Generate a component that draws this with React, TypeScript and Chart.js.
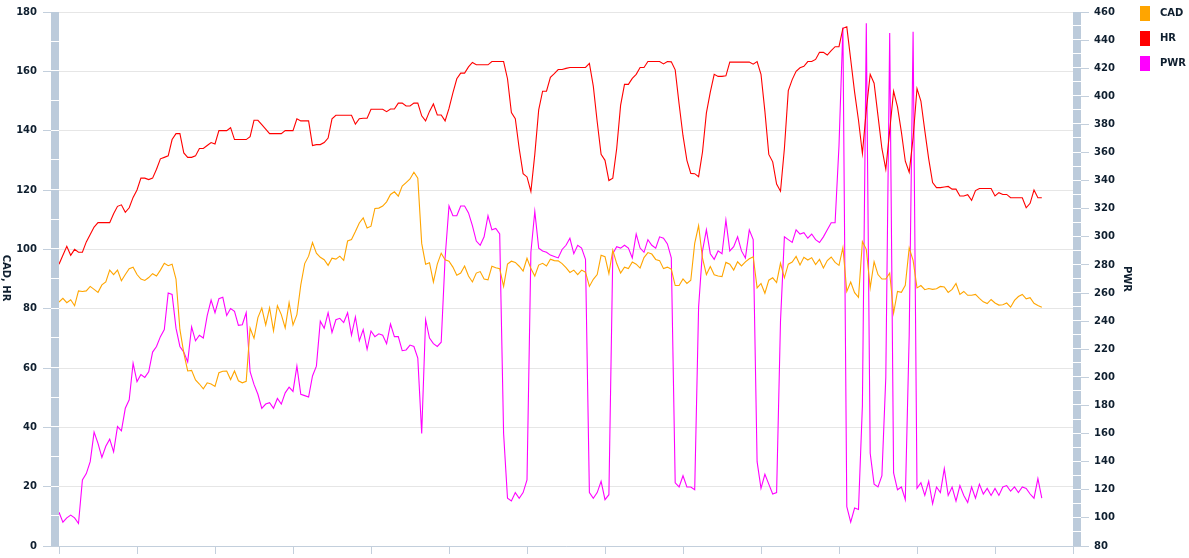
import React, { useEffect, useRef } from 'react';
import { Chart, registerables } from 'chart.js';

Chart.register(...registerables);

// ---- data ----
const SAMPLE_SEC = 30; // one reading every 30 s
const X_MAX = 7800;
const X_STEP = 600;
const LEFT_MIN = 0;
const LEFT_MAX = 180;
const LEFT_STEP = 20;
const RIGHT_MIN = 80;
const RIGHT_MAX = 460;
const RIGHT_STEP = 20;
const SERIES_NAMES = ['CAD', 'HR', 'PWR'];
const LEFT_TITLE = 'CAD, HR';
const RIGHT_TITLE = 'PWR';

const CAD = [
  82.2, 83.5, 82, 83, 81, 86, 85.8, 86, 87.5, 86.5,
  85.5, 88, 89, 93, 91.5, 93, 89.4, 91.5, 93.5, 94,
  91.5, 90, 89.5, 90.5, 91.8, 91, 93, 95.3, 94.5, 95,
  90, 73, 65, 59, 59.2, 56, 54.6, 53, 55, 54.6,
  53.8, 58.4, 58.9, 59, 56.1, 59, 55.7, 55, 55.5, 73.5,
  70, 77, 80.2, 74.5, 80.3, 72.5, 81, 78, 73.5, 82,
  74.5, 78, 88, 95.2, 97.7, 102.3, 98.7, 97.3, 96.5, 94.6,
  97, 96.7, 97.7, 96.3, 102.8, 103.3, 106, 108.9, 110.6, 107.2,
  107.8, 113.8, 113.9, 114.6, 116, 118.5, 119.4, 117.9, 121.3, 122.5,
  123.7, 126, 124, 102, 95, 95.5, 89, 95, 98.7, 96.5,
  96, 94, 91.3, 92, 94.4, 91, 89, 92, 92.5, 90,
  89.7, 94.3, 93.8, 93.5, 87.5, 95, 96, 95.6, 94.3, 92.7,
  97, 93.5, 91, 94.7, 95.3, 94.4, 96.7, 96.2, 96.1, 95.2,
  93.8, 92.2, 93, 91.5, 93, 92.3, 87.5, 89.9, 91.5, 98,
  97.5, 91.8, 99.7, 95.2, 92, 94, 93.5, 95.7, 95, 93.7,
  97.2, 98.9, 98.4, 96.6, 96.2, 93.5, 94, 93.3, 87.8, 87.8,
  90, 88.5, 89.6, 102, 108, 97, 91.5, 94.2, 91.4, 91,
  90.8, 95.6, 95, 93, 95.8, 94.4, 95.8, 96.8, 97.5, 87,
  88.5, 85.2, 89.6, 90.4, 88.8, 95.3, 90.4, 95, 95.7, 97.6,
  94.7, 97.3, 96.4, 97.2, 94.9, 96.6, 93.7, 96.2, 97.4, 95.6,
  94.6, 100.6, 85.8, 89, 85.4, 83.8, 102.6, 100, 87, 95.8,
  91.5, 90, 90, 92, 78.5, 85.8, 85.5, 87.9, 100.5, 96.3,
  87, 87.8, 86.4, 86.8, 86.5, 86.7, 87.5, 87.3, 85.5, 86.5,
  88.5, 84.8, 85.8, 84.5, 84.5, 84.8, 83.5, 82.3, 81.7, 83.1,
  81.9, 81.2, 81.3, 81.9, 80.5, 82.8, 84.1, 84.8, 83.3, 83.7,
  81.8, 81.1, 80.5,
];

const HR = [
  95, 98, 101, 98, 100, 99, 99, 102.5, 105, 107.5,
  109, 109, 109, 109, 112, 114.5, 115, 112.5, 114, 117.5,
  120, 124, 124, 123.5, 124, 127, 130.5, 131, 131.5, 137,
  139, 139, 132.5, 131, 131, 131.5, 134, 134, 135, 136,
  135.5, 140, 140, 140, 141, 137, 137, 137, 137, 138,
  143.5, 143.5, 142, 140.5, 139, 139, 139, 139, 140, 140,
  140, 144, 143.3, 143.3, 143.3, 135, 135.3, 135.3, 136, 137.5,
  144, 145.2, 145.2, 145.2, 145.2, 145.2, 142.2, 144, 144.2, 144.2,
  147.2, 147.2, 147.2, 147.2, 146.4, 147.3, 147.3, 149.3, 149.3, 148.3,
  148.3, 149.3, 149.3, 145, 143.3, 146.5, 149, 145.3, 145.3, 143.3,
  147.5, 152.7, 157.5, 159.4, 159.4, 161.5, 163, 162.2, 162.2, 162.2,
  162.2, 163.3, 163.3, 163.3, 163.3, 157.5, 146.1, 144, 134, 125.5,
  124.4, 119.5, 132, 147, 153.3, 153.3, 158, 159.2, 160.6, 160.6,
  161, 161.3, 161.3, 161.3, 161.3, 161.3, 162.7, 155, 143, 132,
  130, 123.2, 124, 134, 148.5, 155.6, 155.6, 157.6, 159, 161.3,
  161.3, 163.3, 163.3, 163.3, 163.3, 162.5, 163.3, 163.2, 160.5, 149,
  138.3, 130, 125.6, 125.5, 124.5, 132.8, 146, 153, 159, 158.3,
  158.3, 158.5, 163.1, 163.1, 163.1, 163.1, 163.1, 163.1, 162.4, 163.3,
  159, 146.5, 132, 129.5, 122, 119.6, 134, 153.5, 157.2, 160,
  161.2, 161.7, 163.3, 163.3, 164, 166.4, 166.4, 165.5, 167, 168.3,
  168.3, 174.5, 175, 164, 153, 143.5, 132.3, 147, 159, 156,
  145, 134, 127, 140, 153.3, 148, 139.5, 129.7, 126, 137.6,
  154.2, 150, 140, 130.5, 122.5, 120.8, 120.8, 121, 121.2, 120.3,
  120.3, 118, 118, 118.4, 116.5, 119.8, 120.5, 120.5, 120.5, 120.5,
  118, 119.1, 118.5, 118.5, 117.4, 117.4, 117.4, 117.4, 114, 115.5,
  120, 117.4, 117.4,
];

const PWR = [
  104, 97, 100, 102, 100, 96, 127, 131.5, 140, 161,
  153, 143, 151, 156, 147, 165, 162, 178, 184, 210,
  197, 202, 200, 204, 218, 222, 229, 234, 260, 259,
  235, 222, 218, 211, 236, 226, 230, 228, 244, 255,
  246, 256, 257, 244, 249, 247, 237, 237.5, 246, 204,
  195, 188, 178, 181, 182, 178, 185, 181, 189, 193,
  190, 208, 188, 187, 186, 201, 208, 240, 235, 246,
  232, 241, 242, 239, 246, 230, 243, 226, 234, 220,
  233, 229, 231, 230, 224, 238, 229, 229, 219, 219.5,
  223, 222, 213.7, 160, 241, 228, 224, 222, 225, 285,
  322, 315, 315, 322, 322, 317, 308, 297, 294, 300,
  315, 305, 306, 302, 160, 114, 112, 118, 114, 118,
  127, 289, 318, 292, 290, 289, 287, 286, 285, 291,
  294, 299, 288, 294, 292, 284, 118, 114, 118, 126,
  113, 116.5, 288, 293, 292, 294, 292, 285, 302, 292,
  289, 298, 294, 292, 300, 299, 295, 285, 125, 122,
  130, 122, 122, 120, 250, 290, 305, 288, 284, 290,
  288, 312, 290, 293, 300, 290, 285, 305, 298, 140,
  121, 131, 124, 117, 118, 240, 300, 298, 296, 305,
  302, 303, 299, 302, 298, 296, 300, 305, 310, 310,
  365, 449, 108, 97, 107, 106, 180, 452, 146, 124,
  122, 130, 200, 445, 132, 120, 122, 113, 230, 446,
  121, 125, 116, 126, 110, 122, 118, 135, 116, 122,
  112, 123, 116, 111, 122, 114, 124, 117, 121, 116,
  121, 116, 122, 123, 119, 122, 118, 122, 121, 117,
  114, 128, 114,
];

// ---- styles ----
const COLORS = ['#FFA500', '#FF0000', '#FF00FF'];
const TEXT_COLOR = '#0f1f2f';
const BAND_COLOR = '#bccbdb';
const TICK_COLOR = '#c3cfdc';
const GRID_COLOR = '#e6e6e6';
const FONT_FAMILY = "'DejaVu Sans', Verdana, sans-serif";
const BOLD10 = { family: FONT_FAMILY, size: 10, weight: 'bold' as const };

const toPoints = (arr: number[]) => arr.map((v, i) => ({ x: i * SAMPLE_SEC, y: v }));

// legend swatch: 10x15 colour box inside a 15px-wide image (leaves a gap before the text)
function makeSwatch(color: string): HTMLCanvasElement {
  const c = document.createElement('canvas');
  c.width = 15;
  c.height = 15;
  const g = c.getContext('2d');
  if (g) {
    g.fillStyle = color;
    g.fillRect(0, 0, 10, 15);
  }
  return c;
}

const axisBandPlugin = {
  id: 'axisBands',
  afterDraw(chart: any) {
    const { ctx, chartArea: a } = chart;
    const yL = chart.scales.y;
    const yR = chart.scales.y1;
    ctx.save();
    ctx.fillStyle = BAND_COLOR;
    ctx.fillRect(a.left - 8, a.top, 8, a.bottom - a.top);
    ctx.fillRect(a.right, a.top, 8, a.bottom - a.top);
    ctx.fillStyle = '#ffffff';
    for (let v = LEFT_MIN + 10; v < LEFT_MAX; v += 10) {
      const p = Math.round(yL.getPixelForValue(v));
      ctx.fillRect(a.left - 8, p - 1, 8, 1);
    }
    for (let v = RIGHT_MIN + 10; v < RIGHT_MAX; v += 10) {
      const p = Math.round(yR.getPixelForValue(v));
      ctx.fillRect(a.right, p - 1, 8, 1);
    }
    // left axis title, reading top to bottom
    ctx.fillStyle = TEXT_COLOR;
    ctx.font = `bold 10px ${FONT_FAMILY}`;
    ctx.textAlign = 'center';
    ctx.textBaseline = 'middle';
    ctx.translate(5.5, (a.top + a.bottom) / 2 - 1);
    ctx.rotate(Math.PI / 2);
    ctx.fillText(LEFT_TITLE, 0, 0);
    ctx.restore();
  },
};

export default function App() {
  const canvasRef = useRef<HTMLCanvasElement | null>(null);

  useEffect(() => {
    if (!canvasRef.current) return;
    const series = [CAD, HR, PWR];
    const chart = new Chart(canvasRef.current, {
      type: 'line',
      data: {
        datasets: SERIES_NAMES.map((name, i) => ({
          label: name,
          data: toPoints(series[i]),
          borderColor: COLORS[i],
          backgroundColor: COLORS[i],
          borderWidth: 1.1,
          pointRadius: 0,
          pointStyle: makeSwatch(COLORS[i]),
          tension: 0,
          fill: false,
          yAxisID: i === 2 ? 'y1' : 'y',
          xAxisID: 'x',
        })),
      },
      options: {
        responsive: true,
        maintainAspectRatio: false,
        animation: false,
        layout: { padding: { top: -7, left: 0, right: 0, bottom: 0 } },
        plugins: {
          legend: {
            position: 'right',
            align: 'start',
            maxWidth: 64,
            labels: {
              usePointStyle: true,
              pointStyleWidth: 15,
              boxWidth: 15,
              boxHeight: 10,
              padding: 15,
              color: TEXT_COLOR,
              font: BOLD10,
            },
          },
          tooltip: { enabled: false },
        },
        scales: {
          x: {
            type: 'linear',
            position: 'bottom',
            min: 0,
            max: X_MAX,
            ticks: { display: false, stepSize: X_STEP },
            grid: {
              drawOnChartArea: false,
              drawTicks: true,
              tickLength: 8,
              tickColor: TICK_COLOR,
              color: TICK_COLOR,
            },
            border: { display: true, color: TICK_COLOR, width: 1 },
            afterFit(s: any) { s.height = 8; },
          },
          xTop: {
            type: 'linear',
            position: 'top',
            display: true,
            ticks: { display: false },
            grid: { display: false },
            border: { display: false },
            afterFit(s: any) { s.height = 17; },
          },
          y: {
            type: 'linear',
            position: 'left',
            min: LEFT_MIN,
            max: LEFT_MAX,
            ticks: { stepSize: LEFT_STEP, padding: 6, color: TEXT_COLOR, font: BOLD10 },
            grid: { color: GRID_COLOR, tickColor: TICK_COLOR, tickLength: 16, lineWidth: 1 },
            border: { display: false },
            afterFit(s: any) { s.width = 59; },
          },
          y1: {
            type: 'linear',
            position: 'right',
            min: RIGHT_MIN,
            max: RIGHT_MAX,
            ticks: { stepSize: RIGHT_STEP, padding: 5, color: TEXT_COLOR, font: BOLD10 },
            grid: { drawOnChartArea: false, tickColor: TICK_COLOR, tickLength: 16 },
            border: { display: false },
            title: {
              display: true,
              text: RIGHT_TITLE,
              color: TEXT_COLOR,
              font: BOLD10,
              padding: { top: -8, bottom: 0 },
            },
            afterFit(s: any) { s.width = 52; },
          },
        },
      },
      plugins: [axisBandPlugin],
    });
    return () => chart.destroy();
  }, []);

  return (
    <div style={{ position: 'fixed', left: 0, top: 0, width: 1189, height: 558 }}>
      <canvas ref={canvasRef} />
    </div>
  );
}
